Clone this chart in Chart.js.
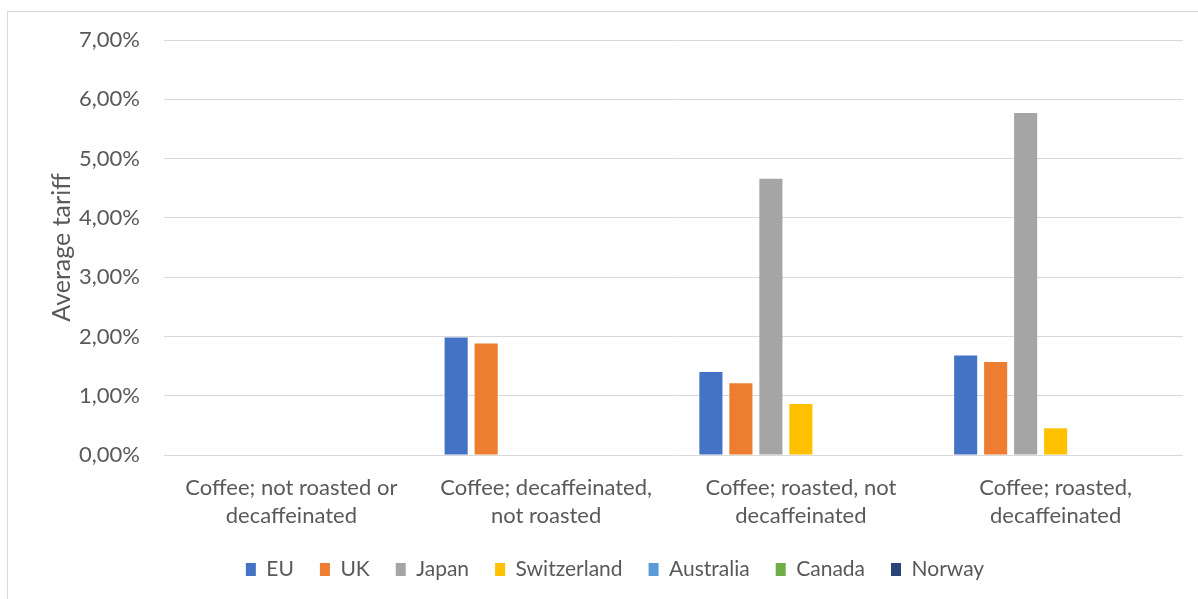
<!DOCTYPE html>
<html>
<head>
<meta charset="utf-8">
<script src="https://cdn.jsdelivr.net/npm/chart.js@4/dist/chart.umd.min.js"></script>
<style>
  html, body { margin: 0; padding: 0; background: #fff; }
  #wrap { width: 1198px; height: 599px; }
</style>
</head>
<body>
<div id="wrap"><canvas id="c" width="1198" height="599"></canvas></div>
<script>
// Product categories (two-line labels)
const categories = [
  ["Coffee; not roasted or", "decaffeinated"],
  ["Coffee; decaffeinated,", "not roasted"],
  ["Coffee; roasted, not", "decaffeinated"],
  ["Coffee; roasted,", "decaffeinated"]
];

// Average tariff per market (fraction)
const eu          = [0, 0.0198, 0.0140, 0.0168];
const uk          = [0, 0.0188, 0.0121, 0.0157];
const japan       = [0, 0,      0.0466, 0.0577];
const switzerland = [0, 0,      0.0086, 0.0045];
const australia   = [0, 0, 0, 0];
const canada      = [0, 0, 0, 0];
const norway      = [0, 0, 0, 0];

const seriesNames  = ["EU", "UK", "Japan", "Switzerland", "Australia", "Canada", "Norway"];
const seriesValues = [eu, uk, japan, switzerland, australia, canada, norway];
const seriesColors = ["#4472C4", "#ED7D31", "#A5A5A5", "#FFC000", "#5B9BD5", "#70AD47", "#264478"];

const yTickStep = 0.01;
const yMax = 0.07;

const fmtPct = v => (v * 100).toFixed(2).replace('.', ',') + '%';

const FONT = "Lato, 'Open Sans', sans-serif";
const TEXT = "#595959";

// White background and thin grey frame lines (top and left)
const framePlugin = {
  id: 'frame',
  beforeDraw(chart) {
    const ctx = chart.ctx;
    ctx.save();
    ctx.fillStyle = '#ffffff';
    ctx.fillRect(0, 0, chart.width, chart.height);
    ctx.strokeStyle = '#d9d9d9';
    ctx.lineWidth = 1;
    ctx.strokeRect(7.5, 11.5, 1300, 700);
    ctx.restore();
  }
};

new Chart(document.getElementById('c'), {
  type: 'bar',
  data: {
    labels: categories,
    datasets: seriesNames.map((name, i) => ({
      label: name,
      data: seriesValues[i],
      backgroundColor: seriesColors[i],
      borderWidth: 0,
      categoryPercentage: 0.824,
      barPercentage: 0.77
    }))
  },
  options: {
    responsive: false,
    animation: false,
    devicePixelRatio: 1,
    layout: { padding: { left: 47, right: 15, top: 40, bottom: 9 } },
    plugins: {
      tooltip: { enabled: false },
      legend: {
        position: 'bottom',
        labels: {
          boxWidth: 10,
          boxHeight: 13,
          padding: 26,
          color: TEXT,
          font: { family: FONT, size: 21 }
        }
      }
    },
    scales: {
      x: {
        afterFit(scale) { scale.height = 78; },
        grid: { display: false, drawTicks: false },
        border: { display: false },
        ticks: {
          color: TEXT,
          padding: 19,
          maxRotation: 0,
          autoSkip: false,
          font: { family: FONT, size: 22, lineHeight: 1.27 }
        }
      },
      y: {
        min: 0,
        max: yMax,
        afterFit(scale) { scale.width = 117; },
        grid: { color: '#d9d9d9', lineWidth: 1, drawTicks: false },
        border: { display: false },
        ticks: {
          stepSize: yTickStep,
          color: TEXT,
          padding: 24,
          font: { family: FONT, size: 22 },
          callback: v => fmtPct(v)
        },
        title: {
          display: true,
          text: 'Average tariff',
          color: TEXT,
          padding: 0,
          font: { family: FONT, size: 25 }
        }
      }
    }
  },
  plugins: [framePlugin]
});
</script>
</body>
</html>
